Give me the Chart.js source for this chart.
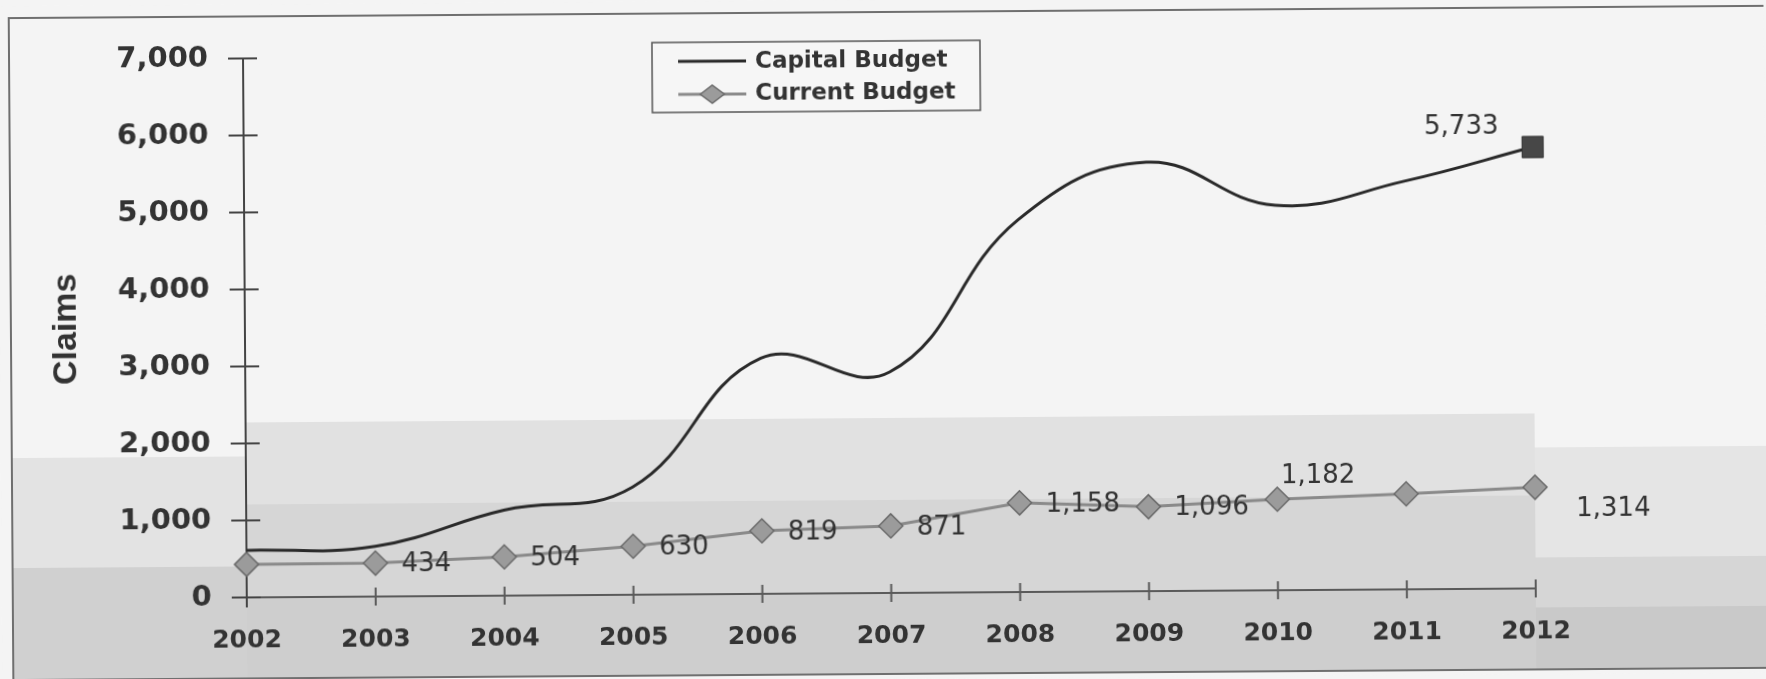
<!DOCTYPE html>
<html>
<head>
<meta charset="utf-8">
<script src="https://cdn.jsdelivr.net/npm/chart.js@4"></script>
<style>
  html, body { margin: 0; padding: 0; background: #f4f4f4; overflow: hidden; }
  /* the scanned original sits a little crooked */
  #wrap { width: 1766px; height: 679px; transform: rotate(-0.4deg); }
</style>
</head>
<body>
<div id="wrap"><canvas id="myChart" width="1766" height="679"></canvas></div>
<script>
const years = ['2002', '2003', '2004', '2005', '2006', '2007', '2008', '2009', '2010', '2011', '2012'];
const capitalBudget = [612, 652, 1110, 1400, 3060, 2870, 4830, 5570, 5000, 5300, 5733];
const currentBudget = [430, 434, 504, 630, 819, 871, 1158, 1096, 1182, 1240, 1314];
const capitalLabels = ['', '', '', '', '', '', '', '', '', '', '5,733'];
const currentLabels = ['', '434', '504', '630', '819', '871', '1,158', '1,096', '1,182', '', '1,314'];
const yTicks = [0, 1000, 2000, 3000, 4000, 5000, 6000, 7000];

const ink = '#333333';

const paper = {
  id: 'paper',
  beforeDraw(chart) {
    const ctx = chart.ctx;
    const a = chart.chartArea;
    ctx.save();
    ctx.fillStyle = '#f4f4f4';
    ctx.fillRect(0, 0, chart.width, chart.height);
    // grey halftone bands of the scan
    const band = (x0, x1, y0, y1, c) => { ctx.fillStyle = c; ctx.fillRect(x0, y0, x1 - x0, y1 - y0); };
    band(11, a.left, 452, 562, '#e3e3e3');
    band(11, a.left, 562, 674, '#d0d0d0');
    band(a.left, a.right, 418, 500, '#e1e1e1');
    band(a.left, a.right, 500, a.bottom, '#d6d6d6');
    band(a.left, a.right, a.bottom, 674, '#cecece');
    band(a.right, chart.width, 452, 562, '#e5e5e5');
    band(a.right, chart.width, 562, 612, '#d6d6d6');
    band(a.right, chart.width, 612, 674, '#c9c9c9');
    ctx.strokeStyle = '#6f6f6f';
    ctx.lineWidth = 2;
    ctx.strokeRect(11, 12, chart.width + 20, 662);
    ctx.restore();
  }
};

const axisLines = {
  id: 'axisLines',
  beforeDatasetsDraw(chart) {
    const {ctx, chartArea: a} = chart;
    const x = chart.scales.x, y = chart.scales.y;
    ctx.save();
    ctx.lineWidth = 2;
    ctx.strokeStyle = '#5a5a5a';
    ctx.beginPath();
    ctx.moveTo(a.left - 15, a.bottom);
    ctx.lineTo(a.right, a.bottom);
    x.ticks.forEach((t, i) => {
      const px = x.getPixelForTick(i);
      ctx.moveTo(px, a.bottom - 9);
      ctx.lineTo(px, a.bottom + 9);
    });
    ctx.stroke();
    ctx.strokeStyle = '#444444';
    ctx.beginPath();
    ctx.moveTo(a.left, a.top);
    ctx.lineTo(a.left, a.bottom + 10);
    y.ticks.forEach((t, i) => {
      const py = y.getPixelForTick(i);
      ctx.moveTo(a.left - 15, py);
      ctx.lineTo(a.left + 14, py);
    });
    ctx.stroke();
    ctx.restore();
  }
};

const valueLabels = {
  id: 'valueLabels',
  afterDatasetsDraw(chart, args, opts) {
    const ctx = chart.ctx;
    ctx.save();
    ctx.font = '26px "DejaVu Sans"';
    ctx.fillStyle = ink;
    ctx.textBaseline = 'middle';
    chart.data.datasets.forEach((ds, i) => {
      const meta = chart.getDatasetMeta(i);
      const texts = i === 0 ? capitalLabels : currentLabels;
      meta.data.forEach((pt, j) => {
        if (!texts[j]) return;
        const p = opts.place[(opts.special[i] || {})[years[j]] || 'right'];
        ctx.textAlign = p.align;
        ctx.fillText(texts[j], pt.x + p.dx, pt.y + p.dy);
      });
    });
    ctx.restore();
  }
};

const boxLegend = {
  id: 'boxLegend',
  afterDraw(chart) {
    const ctx = chart.ctx;
    const [cap, cur] = chart.data.datasets;
    ctx.save();
    ctx.fillStyle = '#f6f6f6';
    ctx.fillRect(654, 41, 328, 70);
    ctx.strokeStyle = '#555555';
    ctx.lineWidth = 1.5;
    ctx.strokeRect(654, 41, 328, 70);
    ctx.lineWidth = 3;
    ctx.strokeStyle = cap.borderColor;
    ctx.beginPath(); ctx.moveTo(680, 60); ctx.lineTo(748, 60); ctx.stroke();
    ctx.strokeStyle = cur.borderColor;
    ctx.beginPath(); ctx.moveTo(680, 93); ctx.lineTo(748, 93); ctx.stroke();
    ctx.fillStyle = cur.pointBackgroundColor;
    ctx.strokeStyle = cur.pointBorderColor;
    ctx.lineWidth = 1.5;
    ctx.beginPath();
    ctx.moveTo(702, 93); ctx.lineTo(714, 84); ctx.lineTo(726, 93); ctx.lineTo(714, 102);
    ctx.closePath(); ctx.fill(); ctx.stroke();
    ctx.fillStyle = ink;
    ctx.font = 'bold 23px "DejaVu Sans"';
    ctx.textBaseline = 'middle';
    ctx.textAlign = 'left';
    ctx.fillText(cap.label, 757, 61);
    ctx.fillText(cur.label, 757, 93);
    ctx.restore();
  }
};

Chart.defaults.font.family = '"DejaVu Sans", sans-serif';
Chart.defaults.color = ink;

const ctx = document.getElementById('myChart').getContext('2d');
new Chart(ctx, {
  type: 'line',
  data: {
    labels: years,
    datasets: [{
      label: 'Capital Budget',
      data: capitalBudget,
      borderColor: '#2a2a2a',
      borderWidth: 3,
      tension: 0.42,
      pointStyle: 'rect',
      pointRadius: capitalBudget.map((v, i) => capitalLabels[i] ? 15 : 0),
      pointBackgroundColor: '#474747',
      pointBorderColor: '#333333',
      pointBorderWidth: 1
    }, {
      label: 'Current Budget',
      data: currentBudget,
      borderColor: '#8a8a8a',
      borderWidth: 3,
      tension: 0,
      pointStyle: 'rectRot',
      pointRadius: 12,
      pointBackgroundColor: '#9b9b9b',
      pointBorderColor: '#6a6a6a',
      pointBorderWidth: 1.5
    }]
  },
  options: {
    responsive: false,
    animation: false,
    layout: { padding: { left: 11, top: 54, right: 232, bottom: 6 } },
    plugins: {
      legend: { display: false },
      tooltip: { enabled: false },
      valueLabels: {
        place: {
          right: { dx: 26, dy: 2, align: 'left' },
          above: { dx: 41, dy: -23, align: 'center' },
          farRight: { dx: 41, dy: 22, align: 'left' },
          aboveLeft: { dx: -34, dy: -20, align: 'right' }
        },
        special: [{ '2012': 'aboveLeft' }, { '2010': 'above', '2012': 'farRight' }]
      }
    },
    scales: {
      x: {
        offset: false,
        grid: { display: false, drawTicks: false },
        border: { display: false },
        ticks: { padding: 28, maxRotation: 0, font: { size: 25, weight: 'bold' } },
        afterFit: s => { s.height = 80; }
      },
      y: {
        min: 0,
        max: 7000,
        grid: { display: false, drawTicks: false },
        border: { display: false },
        afterBuildTicks: s => { s.ticks = yTicks.map(v => ({ value: v })); },
        ticks: {
          padding: 35,
          font: { size: 29, weight: 'bold' },
          callback: v => v.toLocaleString('en-US')
        },
        title: {
          display: true,
          text: 'Claims',
          padding: { top: 35, bottom: 0 },
          font: { family: '"Liberation Sans Narrow", "Liberation Sans", sans-serif', size: 34, weight: 'bold' }
        },
        afterFit: s => { s.width = 234; }
      }
    }
  },
  plugins: [paper, axisLines, valueLabels, boxLegend]
});
</script>
</body>
</html>
